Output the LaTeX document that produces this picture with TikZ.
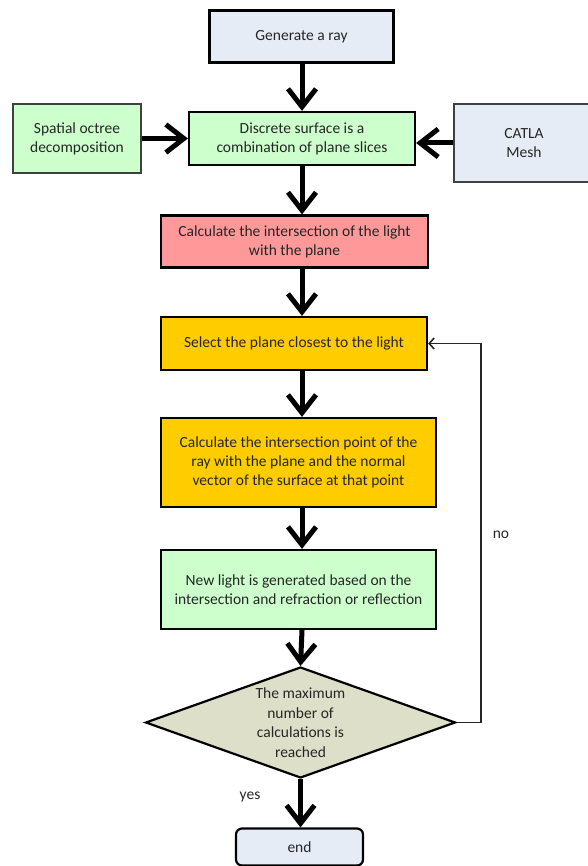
\documentclass[tikz,border=0pt]{standalone}
\usepackage{fontspec}
\setmainfont{Carlito}
\usetikzlibrary{arrows.meta,shapes.geometric}
\definecolor{cblue}{HTML}{E6ECF6}
\definecolor{cgreen}{HTML}{CCFFCC}
\definecolor{cred}{HTML}{FF9999}
\definecolor{corange}{HTML}{FFCC00}
\definecolor{colive}{HTML}{DDDFC9}
\definecolor{ctext}{HTML}{262626}
\tikzset{
  box/.style={draw=black, line width=2.2pt, text=ctext, align=center, font=\fontsize{15.5}{19}\selectfont, inner sep=0pt},
  sidebox/.style={draw=black!75, line width=1.3pt, text=ctext, align=center, font=\fontsize{15.5}{19}\selectfont, inner sep=0pt},
  bigarrow/.style={line width=5pt, -{Straight Barb[length=18pt,width=28pt,line width=5pt]}},
  smallarrow/.style={line width=1.6pt, draw=black!85, -{Straight Barb[length=5pt,width=11pt,line width=1.6pt]}},
  lbl/.style={text=ctext, font=\fontsize{15.5}{19}\selectfont, inner sep=0pt}
}
\begin{document}
\begin{tikzpicture}[x=1pt,y=-1pt]
\useasboundingbox (0,0) rectangle (587,866);
\node[box, fill=cblue, minimum width=184pt, minimum height=52pt] (gen) at (301.5,36.5) {Generate a ray};
\node[sidebox, fill=cgreen, minimum width=128pt, minimum height=69pt] (oct) at (77,138.5) {Spatial octree\\decomposition};
\node[box, fill=cgreen, minimum width=226pt, minimum height=53pt] (disc) at (302,138.5) {Discrete surface is a\\combination of plane slices};
\node[sidebox, fill=cblue, minimum width=140pt, minimum height=78pt] (mesh) at (524,143) {CATLA\\Mesh};
\node[box, fill=cred, minimum width=267pt, minimum height=52pt] (inter) at (294.5,241.5) {Calculate the intersection of the light\\with the plane};
\node[box, fill=corange, minimum width=266pt, minimum height=53pt] (sel) at (294,343.5) {Select the plane closest to the light};
\node[box, fill=corange, minimum width=275pt, minimum height=89pt] (pt) at (298.5,462.5) {Calculate the intersection point of the\\ray with the plane and the normal\\vector of the surface at that point};
\node[box, fill=cgreen, minimum width=275pt, minimum height=79pt] (newl) at (298.5,589.5) {New light is generated based on the\\intersection and refraction or reflection};
\node[draw=black, line width=2.2pt, fill=colive, text=ctext, shape=diamond, aspect=2.8, minimum width=310pt, minimum height=111pt, inner sep=0pt, align=center, font=\fontsize{15.5}{19.5}\selectfont] (dec) at (300.5,722.5) {The maximum\\number of\\calculations is\\reached};
\node[box, fill=cblue, rounded corners=6pt, minimum width=127pt, minimum height=37pt] (end) at (299.5,847) {end};
\node[lbl] (yes) at (250,797) {yes};
\node[lbl] (no) at (501,535) {no};
\coordinate (c1) at (481,722.5);
\coordinate (c2) at (481,343.5);
\coordinate (ax) at (302,0);
\draw[bigarrow] (gen.south -| ax) -- (disc.north -| ax);
\draw[bigarrow] (oct.east) -- (oct.east -| disc.west);
\draw[bigarrow] (mesh.west) -- (mesh.west -| disc.east);
\draw[bigarrow] (disc.south -| ax) -- (inter.north -| ax);
\draw[bigarrow] (inter.south -| ax) -- (sel.north -| ax);
\draw[bigarrow] (sel.south -| ax) -- (pt.north -| ax);
\draw[bigarrow] (pt.south -| ax) -- (newl.north -| ax);
\draw[bigarrow] (newl.south -| ax) -- (dec.north);
\draw[bigarrow] (dec.south) -- (end.north -| dec.south);
\draw[smallarrow] (dec.east) -- (c1) -- (c2) -- (sel.east);
\end{tikzpicture}
\end{document}
